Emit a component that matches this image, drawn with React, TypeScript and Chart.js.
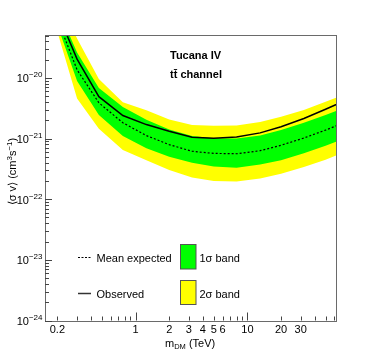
import React, { useEffect, useRef } from "react";
import { Chart, registerables } from "chart.js";

Chart.register(...registerables);

// Dark-matter mass grid (TeV)
const masses = [0.2, 0.3, 0.47, 0.77, 1.25, 2, 3.2, 5, 8, 13, 20, 32, 50, 80];
// <sigma v> limits (cm^3 s^-1)
const observed = [1.2e-19, 2.04e-20, 4.9e-21, 2.4e-21, 1.7e-21, 1.32e-21, 1.05e-21, 1.01e-21, 1.06e-21, 1.24e-21, 1.57e-21, 2.14e-21, 3.05e-21, 4.47e-21];
const meanExpected = [9.33e-20, 1.36e-20, 3.89e-21, 1.82e-21, 1.12e-21, 7.94e-22, 6.17e-22, 5.69e-22, 5.62e-22, 6.31e-22, 7.76e-22, 1.02e-21, 1.38e-21, 1.95e-21];
const sigma1Upper = [1.45e-19, 2.63e-20, 6.82e-21, 3.31e-21, 2.04e-21, 1.41e-21, 1.1e-21, 1.01e-21, 1.0e-21, 1.12e-21, 1.38e-21, 1.82e-21, 2.45e-21, 3.39e-21];
const sigma1Lower = [7.41e-20, 8.91e-21, 2.45e-21, 1.1e-21, 6.92e-22, 5.01e-22, 3.98e-22, 3.47e-22, 3.31e-22, 3.72e-22, 4.37e-22, 5.75e-22, 7.59e-22, 1.07e-21];
const sigma2Upper = [2.19e-19, 4.47e-20, 9.55e-21, 3.98e-21, 2.92e-21, 2.07e-21, 1.68e-21, 1.62e-21, 1.64e-21, 1.88e-21, 2.28e-21, 2.97e-21, 4.03e-21, 5.66e-21];
const sigma2Lower = [5.75e-20, 4.57e-21, 1.45e-21, 6.46e-22, 4.37e-22, 3.02e-22, 2.29e-22, 2.0e-22, 1.95e-22, 2.19e-22, 2.63e-22, 3.39e-22, 4.47e-22, 6.31e-22];

// Axis ticks
const xTickValues = [0.2, 0.3, 0.4, 0.5, 0.6, 0.7, 0.8, 0.9, 1, 2, 3, 4, 5, 6, 7, 8, 9, 10, 20, 30, 40, 50, 60];
const xMajorTicks = [1, 10];
const xTickLabels = ["0.2", "1", "2", "3", "4", "5", "6", "10", "20", "30"];
const yDecadeExponents = [-24, -23, -22, -21, -20];
const yMinorMultipliers = [2, 3, 4, 5, 6, 7, 8, 9];

const FONT = '"Liberation Sans", Arial, Helvetica, sans-serif';
const GREEN = "#00ff00";
const YELLOW = "#ffff00";
const AXIS = "#6a6a6a";

function pairs(ys: number[]) {
  return masses.map((m, i) => ({ x: m, y: ys[i] }));
}

const decorPlugin = {
  id: "rootDecor",
  afterDatasetsDraw(chart: any) {
    const ctx: CanvasRenderingContext2D = chart.ctx;
    const xs = chart.scales.x;
    const ys = chart.scales.y;
    const a = chart.chartArea;
    ctx.save();

    // frame
    ctx.strokeStyle = AXIS;
    ctx.lineWidth = 1;
    ctx.strokeRect(Math.round(a.left) + 0.5, Math.round(a.top) + 0.5, Math.round(a.right - a.left), Math.round(a.bottom - a.top));

    // x ticks (inside)
    ctx.strokeStyle = "#444";
    ctx.beginPath();
    for (const v of xTickValues) {
      const px = Math.round(xs.getPixelForValue(v)) + 0.5;
      const len = xMajorTicks.includes(v) ? 8 : 4;
      ctx.moveTo(px, a.bottom);
      ctx.lineTo(px, a.bottom - len);
    }
    // y ticks (inside)
    for (const e of yDecadeExponents) {
      const base = Math.pow(10, e);
      const pyMaj = Math.round(ys.getPixelForValue(base)) + 0.5;
      ctx.moveTo(a.left, pyMaj);
      ctx.lineTo(a.left + 7, pyMaj);
      for (const k of yMinorMultipliers) {
        const v = k * base;
        if (v > ys.max) continue;
        const py = Math.round(ys.getPixelForValue(v)) + 0.5;
        ctx.moveTo(a.left, py);
        ctx.lineTo(a.left + 4, py);
      }
    }
    ctx.stroke();

    ctx.fillStyle = "#000";
    // x tick labels
    ctx.font = `11px ${FONT}`;
    ctx.textAlign = "center";
    ctx.textBaseline = "alphabetic";
    for (const lab of xTickLabels) {
      const px = xs.getPixelForValue(parseFloat(lab));
      ctx.fillText(lab, px, a.bottom + 12.5);
    }

    // y tick labels 10^e
    ctx.textAlign = "left";
    for (const e of yDecadeExponents) {
      const py = ys.getPixelForValue(Math.pow(10, e));
      const expStr = "\u2212" + String(Math.abs(e));
      ctx.font = `11px ${FONT}`;
      const w1 = ctx.measureText("10").width;
      ctx.font = `8px ${FONT}`;
      const w2 = ctx.measureText(expStr).width;
      const x0 = a.left - 2.5 - w1 - w2;
      ctx.font = `11px ${FONT}`;
      ctx.fillText("10", x0, py + 4.5);
      ctx.font = `8px ${FONT}`;
      ctx.fillText(expStr, x0 + w1, py - 0.5);
    }

    // x title: m_DM (TeV)
    {
      let x = 165;
      const yb = 346.5;
      ctx.font = `11px ${FONT}`;
      ctx.fillText("m", x, yb);
      x += ctx.measureText("m").width;
      ctx.font = `7.5px ${FONT}`;
      ctx.fillText("DM", x, yb + 2.5);
      x += ctx.measureText("DM").width;
      ctx.font = `11px ${FONT}`;
      ctx.fillText(" (TeV)", x, yb);
    }

    // y title: <sigma v> (cm^3 s^-1)
    {
      const parts: [string, number, number][] = [
        ["\u27E8\u03C3 v\u27E9 (cm", 11, 0],
        ["3", 8, -4.5],
        ["s", 11, 0],
        ["\u22121", 8, -4.5],
        [")", 11, 0],
      ];
      let total = 0;
      for (const [t, s] of parts) {
        ctx.font = `${s}px ${FONT}`;
        total += ctx.measureText(t).width;
      }
      ctx.save();
      ctx.translate(16, 171.5);
      ctx.rotate(-Math.PI / 2);
      let x = -total / 2;
      for (const [t, s, dy] of parts) {
        ctx.font = `${s}px ${FONT}`;
        ctx.fillText(t, x, dy);
        x += ctx.measureText(t).width;
      }
      ctx.restore();
    }

    // annotation
    ctx.font = `bold 11px ${FONT}`;
    ctx.fillText("Tucana IV", 170, 59);
    ctx.fillText("tt\u0304 channel", 170, 77.5);

    // legend
    ctx.font = `11px ${FONT}`;
    const r1 = 257.5;
    const r2 = 293.5;
    ctx.strokeStyle = "#000";
    ctx.lineWidth = 1;
    ctx.setLineDash([2, 1.5]);
    ctx.beginPath();
    ctx.moveTo(78, r1);
    ctx.lineTo(91, r1);
    ctx.stroke();
    ctx.setLineDash([]);
    ctx.lineWidth = 1.5;
    ctx.strokeStyle = "#333";
    ctx.beginPath();
    ctx.moveTo(78, r2);
    ctx.lineTo(91, r2);
    ctx.stroke();
    ctx.fillText("Mean expected", 96.5, r1 + 4);
    ctx.fillText("Observed", 96.5, r2 + 4);

    ctx.lineWidth = 1;
    ctx.strokeStyle = "#555";
    ctx.fillStyle = GREEN;
    ctx.fillRect(180.5, 244.5, 15.5, 24.5);
    ctx.strokeRect(180.5, 244.5, 15.5, 24.5);
    ctx.fillStyle = YELLOW;
    ctx.fillRect(180.5, 280.5, 15.5, 24);
    ctx.strokeRect(180.5, 280.5, 15.5, 24);
    ctx.fillStyle = "#000";
    ctx.fillText("1\u03C3 band", 199.5, r1 + 4);
    ctx.fillText("2\u03C3 band", 199.5, r2 + 4);

    ctx.restore();
  },
};

export default function App() {
  const ref = useRef<HTMLCanvasElement | null>(null);

  useEffect(() => {
    if (!ref.current) return;
    const chart = new Chart(ref.current, {
      type: "line",
      data: {
        datasets: [
          {
            label: "Observed",
            data: pairs(observed),
            borderColor: "#000",
            borderWidth: 1.5,
            pointRadius: 0,
            fill: false,
          },
          {
            label: "Mean expected",
            data: pairs(meanExpected),
            borderColor: "#000",
            borderWidth: 1.2,
            borderDash: [2, 2],
            pointRadius: 0,
            fill: false,
          },
          {
            label: "1σ band",
            data: pairs(sigma1Upper),
            borderColor: "rgba(0,0,0,0)",
            borderWidth: 0,
            backgroundColor: GREEN,
            pointRadius: 0,
            fill: "+1",
          },
          {
            label: "1σ lower",
            data: pairs(sigma1Lower),
            borderColor: "rgba(0,0,0,0)",
            borderWidth: 0,
            pointRadius: 0,
            fill: false,
          },
          {
            label: "2σ band",
            data: pairs(sigma2Upper),
            borderColor: "rgba(0,0,0,0)",
            borderWidth: 0,
            backgroundColor: YELLOW,
            pointRadius: 0,
            fill: "+1",
          },
          {
            label: "2σ lower",
            data: pairs(sigma2Lower),
            borderColor: "rgba(0,0,0,0)",
            borderWidth: 0,
            pointRadius: 0,
            fill: false,
          },
        ],
      },
      options: {
        responsive: false,
        animation: false,
        events: [],
        layout: { padding: { left: 45, right: 38, top: 35, bottom: 35.5 } },
        plugins: {
          legend: { display: false },
          tooltip: { enabled: false },
          title: { display: false },
        },
        scales: {
          x: { type: "logarithmic", min: 0.155, max: 62, display: false },
          y: { type: "logarithmic", min: 1e-24, max: 5.1e-20, display: false },
        },
      },
      plugins: [decorPlugin],
    } as any);
    return () => chart.destroy();
  }, []);

  return (
    <div style={{ position: "absolute", left: 0, top: 0, width: 374, height: 356, background: "#fff" }}>
      <canvas ref={ref} width={374} height={356} style={{ width: 374, height: 356, display: "block" }} />
    </div>
  );
}
